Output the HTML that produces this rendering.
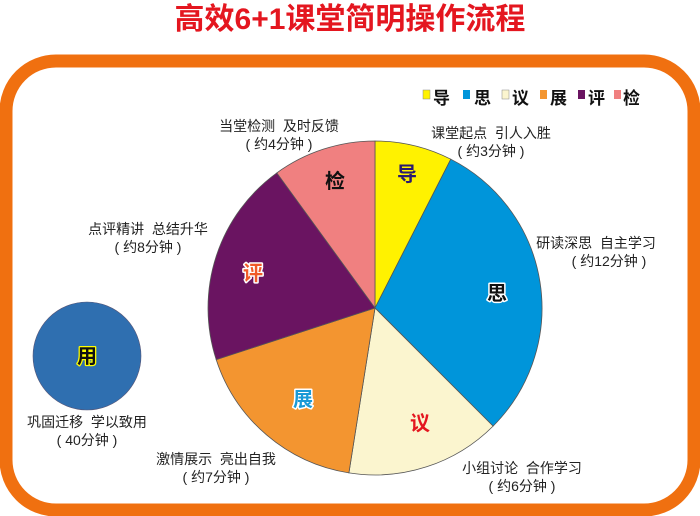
<!DOCTYPE html>
<html><head><meta charset="utf-8"><style>
html,body{margin:0;padding:0;background:#fff;}
svg{display:block;}
text{font-family:"Liberation Sans","Noto Sans CJK SC",sans-serif;white-space:pre;}
</style></head><body>
<svg width="700" height="516" viewBox="0 0 700 516" xmlns="http://www.w3.org/2000/svg" xml:space="preserve">
<rect width="700" height="516" fill="#fff"/>
<text x="350" y="29" text-anchor="middle" font-size="30" font-weight="bold" fill="#e4161f">高效6+1课堂简明操作流程</text>
<rect x="6" y="61" width="688" height="449" rx="50" ry="50" fill="none" stroke="#f07010" stroke-width="13"/>
<g font-size="17" font-weight="bold" fill="#111">
<rect x="423" y="90" width="7" height="9" fill="#fff200" stroke="#888" stroke-width="0.5"/><text x="433" y="104">导</text>
<rect x="463" y="90" width="7" height="9" fill="#0095da"/><text x="474" y="104">思</text>
<rect x="502" y="90" width="7" height="9" fill="#fbf5cf" stroke="#888" stroke-width="0.5"/><text x="512" y="104">议</text>
<rect x="540" y="90" width="7" height="9" fill="#f39530"/><text x="550" y="104">展</text>
<rect x="578" y="90" width="7" height="9" fill="#6a1461"/><text x="588" y="104">评</text>
<rect x="614" y="90" width="7" height="9" fill="#f08080"/><text x="623" y="104">检</text>
</g>
<g stroke="#555" stroke-width="0.8">
<path d="M375,308 L375,141 A167,167 0 0 1 450.8,159.2 Z" fill="#fff200"/>
<path d="M375,308 L450.8,159.2 A167,167 0 0 1 493.1,426.1 Z" fill="#0095da"/>
<path d="M375,308 L493.1,426.1 A167,167 0 0 1 348.9,472.9 Z" fill="#fbf5cf"/>
<path d="M375,308 L348.9,472.9 A167,167 0 0 1 216.2,359.6 Z" fill="#f39530"/>
<path d="M375,308 L216.2,359.6 A167,167 0 0 1 276.8,172.9 Z" fill="#6a1461"/>
<path d="M375,308 L276.8,172.9 A167,167 0 0 1 375,141 Z" fill="#f08080"/>
</g>
<g font-size="20" font-weight="bold" text-anchor="middle" stroke-linejoin="round" paint-order="stroke">
<text x="407" y="181" fill="#2a1a70">导</text>
<text x="497" y="300" fill="#111" stroke="#fff" stroke-width="3">思</text>
<text x="420" y="430" fill="#e4161f">议</text>
<text x="303" y="406" fill="#1a9ad6" stroke="#fff" stroke-width="3">展</text>
<text x="253" y="280" fill="#f05a28" stroke="#fff" stroke-width="3">评</text>
<text x="335" y="188" fill="#111">检</text>
</g>
<circle cx="87" cy="356" r="54" fill="#2f6fb0" stroke="#557" stroke-width="0.6"/>
<text x="87" y="363" text-anchor="middle" font-size="20" font-weight="bold" fill="#111" stroke="#ff0" stroke-width="2.5" paint-order="stroke" stroke-linejoin="round">用</text>
<g font-size="14" fill="#222" text-anchor="middle">
<text x="279" y="131">当堂检测  及时反馈</text><text x="279" y="149">( 约4分钟 )</text>
<text x="491" y="138">课堂起点  引人入胜</text><text x="491" y="156">( 约3分钟 )</text>
<text x="596" y="248">研读深思  自主学习</text><text x="609" y="266">( 约12分钟 )</text>
<text x="148" y="234">点评精讲  总结升华</text><text x="148" y="252">( 约8分钟 )</text>
<text x="87" y="427">巩固迁移  学以致用</text><text x="87" y="445">( 40分钟 )</text>
<text x="216" y="464">激情展示  亮出自我</text><text x="216" y="482">( 约7分钟 )</text>
<text x="522" y="473">小组讨论  合作学习</text><text x="522" y="491">( 约6分钟 )</text>
</g>
</svg>
</body></html>
